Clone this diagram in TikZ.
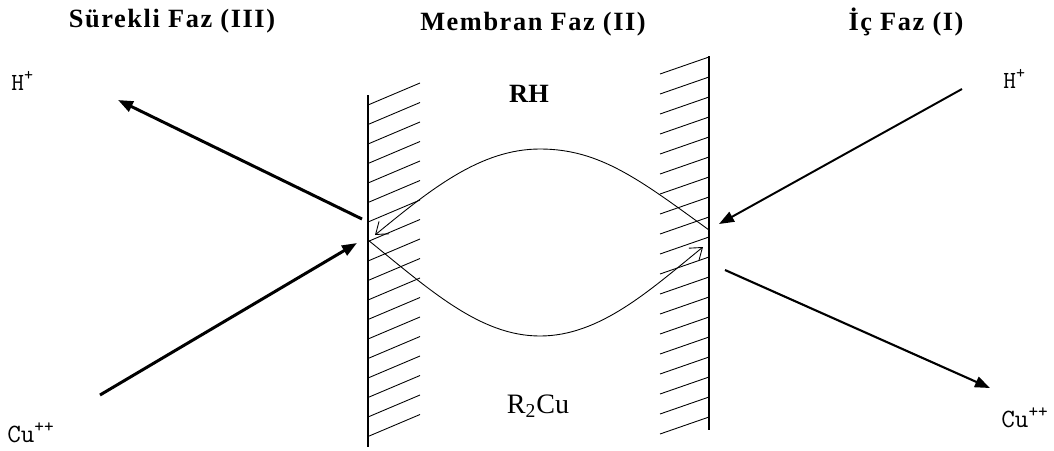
\documentclass[tikz,border=0pt]{standalone}
\usepackage{fontspec}
\setmainfont{Liberation Serif}
\usetikzlibrary{arrows.meta}

\begin{document}
\begin{tikzpicture}[
  x=0.02cm,y=-0.02cm,
  faz/.style={anchor=base,inner sep=0pt,
              font=\fontsize{15}{18}\selectfont\bfseries\addfontfeature{LetterSpace=6}},
  ion/.style={anchor=base west,inner sep=0pt,font=\ttfamily\fontsize{14}{16}\selectfont},
  tur/.style={anchor=base,inner sep=0pt},
  wall/.style={line width=0.9pt},
  hatch/.style={line width=0.5pt},
  flux/.style={-{Triangle[length=3mm,width=2.2mm]},line width=1.7pt},
  carrier/.style={-{Straight Barb[length=2.2mm,width=3.2mm]},line width=0.5pt}
]
\useasboundingbox (0,0) rectangle (1054,450);

% faz basliklari
\node[faz] (surekli) at (172,27) {Sürekli Faz (III)};
\node[faz] (membran) at (533,30) {Membran Faz (II)};
\node[faz] (ic) at (906,30) {İç Faz (I)};

% iyonlar
\node[ion] (hleft) at (11,90) {H\textsuperscript{+}};
\node[ion] (hright) at (1003,88) {H\textsuperscript{+}};
\node[ion,font=\ttfamily\fontsize{15}{17}\selectfont] (culeft) at (7,442) {Cu\textsuperscript{++}};
\node[ion,font=\ttfamily\fontsize{15}{17}\selectfont] (curight) at (1001,427) {Cu\textsuperscript{++}};

% membran icindeki turler
\node[tur,font=\fontsize{15}{18}\selectfont\bfseries] (rh) at (529,102) {RH};
\node[tur,font=\fontsize{16}{19}\selectfont] (rcu) at (538,413) {R\textsubscript{2}Cu};

% sol ve sag arayuz
\coordinate (lwtop) at (368,95);
\coordinate (lwbot) at (368,447);
\coordinate (rwtop) at (709,56);
\coordinate (rwbot) at (709,430);
\draw[wall] (lwtop) -- (lwbot);
\draw[wall] (rwtop) -- (rwbot);
\foreach \i in {0,...,17}
  \draw[hatch] (368,{105+19.5*\i}) -- ++(52,-22);
\foreach \i in {0,...,18}
  \draw[hatch] (660,{74+20*\i}) -- ++(49,-17);

% iyon akilari
\coordinate (lout) at (362,219);
\coordinate (hltip) at (118,100);
\coordinate (cultail) at (100,395);
\coordinate (lin) at (357,243);
\coordinate (hrtail) at (962,89);
\coordinate (rin) at (719,224);
\coordinate (rout) at (725,270);
\coordinate (curtip) at (990,388);
\draw[flux] (lout) -- (hltip);
\draw[flux] (cultail) -- (lin);
\draw[flux,line width=1.1pt] (hrtail) -- (rin);
\draw[flux,line width=1.2pt] (rout) -- (curtip);

% tasiyici
\coordinate (rhstart) at (709,230);
\coordinate (rhpeak) at (540,149);
\coordinate (rhend) at (375,235);
\coordinate (custart) at (368,240);
\coordinate (cudip) at (540,336);
\coordinate (cuend) at (703,247);
\draw[carrier] (rhstart) .. controls (640,180) and (600,149) .. (rhpeak)
  .. controls (480,149) and (430,190) .. (rhend);
\draw[carrier] (custart) .. controls (430,290) and (480,336) .. (cudip)
  .. controls (600,336) and (650,290) .. (cuend);
\end{tikzpicture}
\end{document}
